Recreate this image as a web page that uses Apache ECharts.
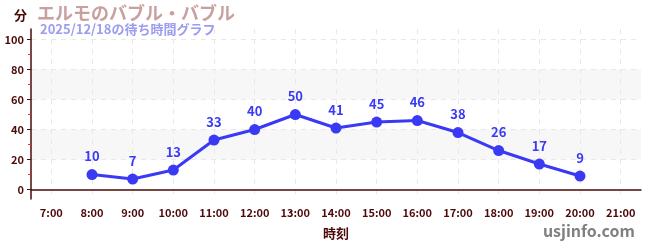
<!DOCTYPE html>
<html><head><meta charset="utf-8">
<script src="https://cdn.jsdelivr.net/npm/echarts@6/dist/echarts.min.js"></script>
<style>html,body{margin:0;padding:0;background:#fff}#c{width:650px;height:250px}</style>
</head><body><div id="c"></div>
<script>
const categories = ['7:00','8:00','9:00','10:00','11:00','12:00','13:00','14:00','15:00','16:00','17:00','18:00','19:00','20:00','21:00'];
const waitTimes = [null,10,7,13,33,40,50,41,45,46,38,26,17,9,null];
const yTickValues = [0,20,40,60,80,100];
const yMinorTickValues = [10,30,50,70,90];
const titleText = 'エルモのバブル・バブル';
const subtitleText = '2025/12/18の待ち時間グラフ';
const unitText = '分';
const xName = '時刻';
const siteText = 'usjinfo.com';

const dark = '#4d0a0a';
const font = '"Noto Sans CJK JP", "Noto Sans", sans-serif';
const chart = echarts.init(document.getElementById('c'), null, {renderer:'canvas'});
const yMin = -6.3, yMax = 107;
chart.setOption({
  animation:false,
  textStyle:{fontFamily:font},
  grid:{left:31,right:9,top:29,bottom:51},
  title:[
    {text:titleText,left:37,top:4,padding:0,textStyle:{fontSize:18,fontWeight:'bold',color:'#c9a0a0',fontFamily:font}},
    {text:subtitleText,left:40,top:23,padding:0,textStyle:{fontSize:13,fontWeight:'bold',color:'#9c9cf0',fontFamily:font}},
    {text:unitText,left:14,top:9,padding:0,textStyle:{fontSize:13,fontWeight:'bold',color:dark,fontFamily:font}},
    {text:siteText,right:15,top:223,padding:0,textStyle:{fontSize:16,fontWeight:'bold',color:'#808080',fontFamily:font}}
  ],
  xAxis:{
    type:'category',data:categories,boundaryGap:true,
    name:xName,nameLocation:'middle',nameGap:28,
    nameTextStyle:{fontSize:13,fontWeight:'bold',color:dark,fontFamily:font},
    axisLine:{lineStyle:{color:dark,width:1.5}},
    axisTick:{alignWithLabel:true,length:4,lineStyle:{color:'#222'}},
    axisLabel:{fontSize:11,fontWeight:'bold',color:dark,margin:8,fontFamily:font,interval:0},
    splitLine:{show:true,alignWithLabel:true,lineStyle:{color:'#e8e8e8',type:[5,5]}}
  },
  yAxis:[{
    type:'value',min:yMin,max:yMax,
    axisLine:{show:true,lineStyle:{color:dark,width:1.5}},
    axisTick:{show:true,length:4,customValues:yTickValues,lineStyle:{color:'#222'}},
    axisLabel:{customValues:yTickValues,fontSize:11,fontWeight:'bold',color:dark,margin:7,fontFamily:font},
    splitLine:{show:true,lineStyle:{color:'#e8e8e8',type:[5,5]}},
    splitArea:{show:true,areaStyle:{color:['rgba(255,255,255,0)','#f7f7f7']}}
  },{
    type:'value',min:yMin,max:yMax,position:'left',
    axisLine:{show:false},
    axisTick:{show:true,length:3,customValues:yMinorTickValues,lineStyle:{color:'#e03030'}},
    axisLabel:{show:false},
    splitLine:{show:false}
  }],
  series:[{
    type:'line',data:waitTimes,yAxisIndex:0,
    symbol:'circle',symbolSize:11,
    lineStyle:{color:'#3a3af5',width:3},
    itemStyle:{color:'#3a3af5'},
    label:{show:true,position:'top',distance:6,fontSize:13,fontWeight:'bold',color:'#3a3af5',fontFamily:font}
  }]
});
</script></body></html>
